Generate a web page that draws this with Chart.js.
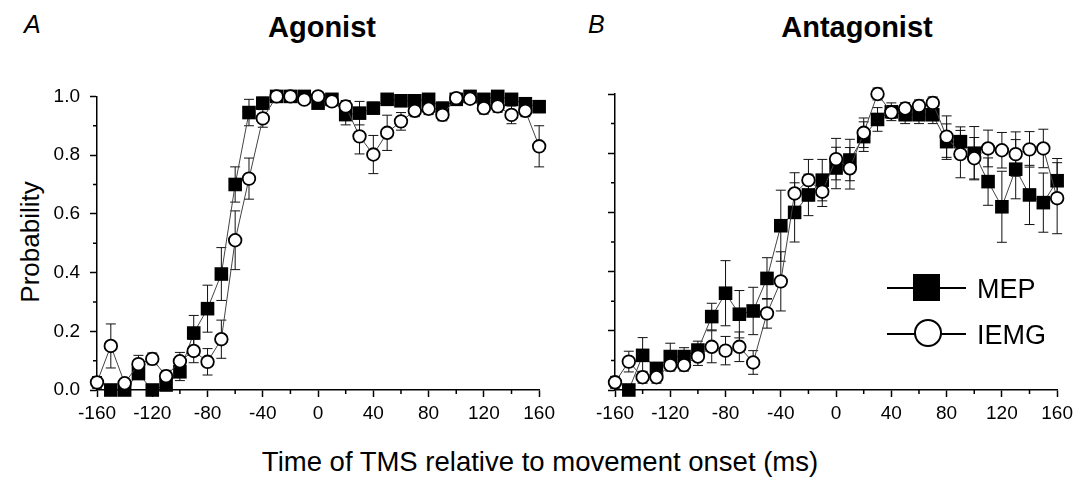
<!DOCTYPE html>
<html>
<head>
<meta charset="utf-8">
<script src="https://cdn.jsdelivr.net/npm/chart.js@4.4.1/dist/chart.umd.min.js"></script>
<style>
  html, body { margin: 0; padding: 0; background: #fff; }
  body { width: 1080px; height: 493px; position: relative; overflow: hidden; font-family: 'Liberation Sans', Arial, sans-serif; color: #000; }
  canvas { position: absolute; }
  .t { position: absolute; white-space: nowrap; line-height: 1; }
  .legend-row { position: absolute; height: 30px; }
  .legend-line { position: absolute; top: 14px; height: 1.5px; background: #000; }
</style>
</head>
<body>
<div class="t" style="left:24px; top:12px; font-size:25px; font-style:italic;">A</div>
<div class="t" style="left:322px; top:13px; font-size:29px; font-weight:bold; transform:translateX(-50%);">Agonist</div>
<div class="t" style="left:588px; top:12px; font-size:25px; font-style:italic;">B</div>
<div class="t" style="left:857px; top:13px; font-size:29px; font-weight:bold; transform:translateX(-50%);">Antagonist</div>
<div class="t" style="left:30px; top:242px; font-size:26px; transform:translate(-50%,-50%) rotate(-90deg);">Probability</div>
<div class="t" style="left:540px; top:448px; font-size:27.5px; transform:translateX(-50%);">Time of TMS relative to movement onset (ms)</div>

<canvas id="cA" width="520" height="355" style="left:40px; top:75px;"></canvas>
<canvas id="cB" width="498" height="346" style="left:580px; top:84px;"></canvas>

<div class="legend-row" style="left:887px; top:273px; width:190px;">
  <div class="legend-line" style="left:0; width:79px;"></div>
  <div style="position:absolute; left:26px; top:1px; width:27px; height:27px; background:#000;"></div>
  <div class="t" style="left:90px; top:3px; font-size:27px;">MEP</div>
</div>
<div class="legend-row" style="left:887px; top:319px; width:190px;">
  <div class="legend-line" style="left:0; width:79px;"></div>
  <div style="position:absolute; left:27px; top:0px; width:24px; height:24px; border:2px solid #000; border-radius:50%; background:#fff;"></div>
  <div class="t" style="left:90px; top:3px; font-size:27px;">IEMG</div>
</div>

<script>
// ---- data (ms relative to movement onset) ----
const times = [-160,-150,-140,-130,-120,-110,-100,-90,-80,-70,-60,-50,-40,-30,-20,-10,0,10,20,30,40,50,60,70,80,90,100,110,120,130,140,150,160];
const xTickValues = [-160,-120,-80,-40,0,40,80,120,160];
const yTickValues = [0,0.2,0.4,0.6,0.8,1.0];

// Panel A: Agonist
const agonistMEP = [null,0.0,0.0,0.056,0.0,0.017,0.062,0.194,0.277,0.395,0.70,0.945,0.977,1.0,1.0,1.0,0.977,0.99,0.938,0.943,0.96,0.99,0.985,0.985,0.99,0.96,0.99,1.0,0.99,1.0,0.99,0.975,0.965];
const agonistMEPerr = [0,0,0,0.02,0,0.01,0.03,0.06,0.08,0.09,0.06,0.045,0.02,0,0,0,0.01,0.01,0.035,0.04,0.02,0.01,0.01,0.01,0.01,0.02,0.01,0.01,0.01,0.01,0.01,0.02,0.02];
const agonistIEMG = [0.026,0.15,0.023,0.088,0.106,0.047,0.098,0.133,0.096,0.173,0.51,0.72,0.925,1.0,1.0,0.989,1.0,0.983,0.966,0.864,0.802,0.876,0.915,0.951,0.958,0.937,0.994,0.992,0.96,0.966,0.937,0.951,0.83];
const agonistIEMGerr = [0.02,0.075,0.01,0.03,0.02,0.02,0.03,0.04,0.045,0.065,0.1,0.07,0.03,0,0,0.01,0,0.01,0.02,0.06,0.065,0.06,0.03,0.02,0.02,0.02,0.01,0.01,0.02,0.02,0.03,0.02,0.07];

// Panel B: Antagonist
const antagonistMEP = [null,0.0,0.117,0.073,0.113,0.113,0.135,0.248,0.327,0.256,0.267,0.377,0.555,0.60,0.659,0.709,0.75,0.777,0.856,0.914,0.94,0.93,0.93,0.93,0.839,0.839,0.80,0.704,0.619,0.746,0.659,0.633,0.707];
const antagonistMEPerr = [0,0,0.06,0.02,0.045,0.03,0.03,0.045,0.11,0.08,0.08,0.07,0.12,0.1,0.07,0.07,0.07,0.07,0.05,0.04,0.03,0.03,0.03,0.03,0.06,0.05,0.09,0.08,0.12,0.1,0.1,0.1,0.075];
const antagonistIEMG = [0.026,0.096,0.043,0.043,0.084,0.084,0.113,0.146,0.133,0.146,0.093,0.259,0.367,0.664,0.709,0.67,0.78,0.749,0.869,1.0,0.938,0.951,0.96,0.97,0.856,0.797,0.783,0.816,0.81,0.797,0.813,0.816,0.648];
const antagonistIEMGerr = [0.02,0.035,0.02,0.02,0.02,0.02,0.03,0.054,0.048,0.05,0.04,0.05,0.1,0.07,0.07,0.05,0.07,0.07,0.05,0.02,0.02,0.02,0.02,0.02,0.07,0.08,0.07,0.062,0.06,0.075,0.06,0.065,0.12];

const FONT = "'Liberation Sans', Arial, sans-serif";

function pts(vals) {
  return times.map((t, i) => ({ x: t, y: vals[i] }));
}

const errorBars = {
  id: 'errorBars',
  beforeDatasetsDraw(chart) {
    const { ctx, scales: { x, y } } = chart;
    ctx.save();
    ctx.strokeStyle = '#111';
    ctx.lineWidth = 1;
    chart.data.datasets.forEach(ds => {
      if (!ds.errors) return;
      ds.data.forEach((p, i) => {
        const e = ds.errors[i];
        if (p.y === null || !e) return;
        const px = x.getPixelForValue(p.x);
        const top = y.getPixelForValue(Math.min(p.y + e, 1.02));
        const bot = y.getPixelForValue(Math.max(p.y - e, 0));
        ctx.beginPath();
        ctx.moveTo(px, top); ctx.lineTo(px, bot);
        ctx.moveTo(px - 5, top); ctx.lineTo(px + 5, top);
        if (p.y - e > 0) { ctx.moveTo(px - 5, bot); ctx.lineTo(px + 5, bot); }
        ctx.stroke();
      });
    });
    ctx.restore();
  }
};

const minorTicks = {
  id: 'minorTicks',
  afterDraw(chart) {
    const { ctx, scales: { x, y }, chartArea } = chart;
    ctx.save();
    ctx.strokeStyle = '#000';
    ctx.lineWidth = 1.5;
    ctx.beginPath();
    for (let i = 0; i < xTickValues.length - 1; i++) {
      const v = (xTickValues[i] + xTickValues[i + 1]) / 2;
      const px = x.getPixelForValue(v);
      ctx.moveTo(px, chartArea.bottom); ctx.lineTo(px, chartArea.bottom + 4);
    }
    for (let i = 0; i < yTickValues.length - 1; i++) {
      const v = (yTickValues[i] + yTickValues[i + 1]) / 2;
      const py = y.getPixelForValue(v);
      ctx.moveTo(chartArea.left - 4, py); ctx.lineTo(chartArea.left, py);
    }
    ctx.stroke();
    ctx.restore();
  }
};

function makeChart(id, mep, mepErr, iemg, iemgErr, showYLabels, yAxisWidth, pad) {
  return new Chart(document.getElementById(id), {
    type: 'scatter',
    data: {
      datasets: [
        {
          label: 'IEMG', data: pts(iemg), errors: iemgErr, order: 0,
          showLine: true, borderColor: '#444', borderWidth: 1,
          pointStyle: 'circle', pointRadius: 6.3, pointHoverRadius: 6.3,
          pointBackgroundColor: '#fff', pointBorderColor: '#000', pointBorderWidth: 1.8,
          clip: false
        },
        {
          label: 'MEP', data: pts(mep), errors: mepErr, order: 1,
          showLine: true, borderColor: '#444', borderWidth: 1, spanGaps: true,
          pointStyle: 'rect', pointRadius: 9.6, pointHoverRadius: 9.6,
          pointBackgroundColor: '#000', pointBorderColor: '#000', pointBorderWidth: 0,
          clip: false
        }
      ]
    },
    options: {
      responsive: false,
      animation: false,
      devicePixelRatio: 1,
      layout: { padding: pad },
      plugins: { legend: { display: false }, tooltip: { enabled: false } },
      scales: {
        x: {
          type: 'linear', min: -160, max: 160,
          afterBuildTicks: s => { s.ticks = xTickValues.map(v => ({ value: v })); },
          afterFit: s => { s.height = 40; },
          ticks: { color: '#000', font: { family: FONT, size: 19 }, padding: 5, maxRotation: 0, autoSkip: false },
          grid: { drawOnChartArea: false, drawTicks: true, tickLength: 7, tickColor: '#000', tickWidth: 1.5 },
          border: { display: true, color: '#000', width: 1.5 }
        },
        y: {
          type: 'linear', min: 0, max: 1,
          afterBuildTicks: s => { s.ticks = yTickValues.map(v => ({ value: v })); },
          afterFit: s => { s.width = yAxisWidth; },
          ticks: { display: showYLabels, color: '#000', font: { family: FONT, size: 19 }, padding: 10, callback: v => v.toFixed(1) },
          grid: { drawOnChartArea: false, drawTicks: true, tickLength: 7, tickColor: '#000', tickWidth: 1.5 },
          border: { display: true, color: '#000', width: 1.5 }
        }
      }
    },
    plugins: [errorBars, minorTicks]
  });
}

makeChart('cA', agonistMEP, agonistMEPerr, agonistIEMG, agonistIEMGerr, true, 57, { left: 0, right: 19, top: 2, bottom: 0 });
makeChart('cB', antagonistMEP, antagonistMEPerr, antagonistIEMG, antagonistIEMGerr, false, 35, { left: 0, right: 17, top: 10, bottom: 0 });
</script>
</body>
</html>
